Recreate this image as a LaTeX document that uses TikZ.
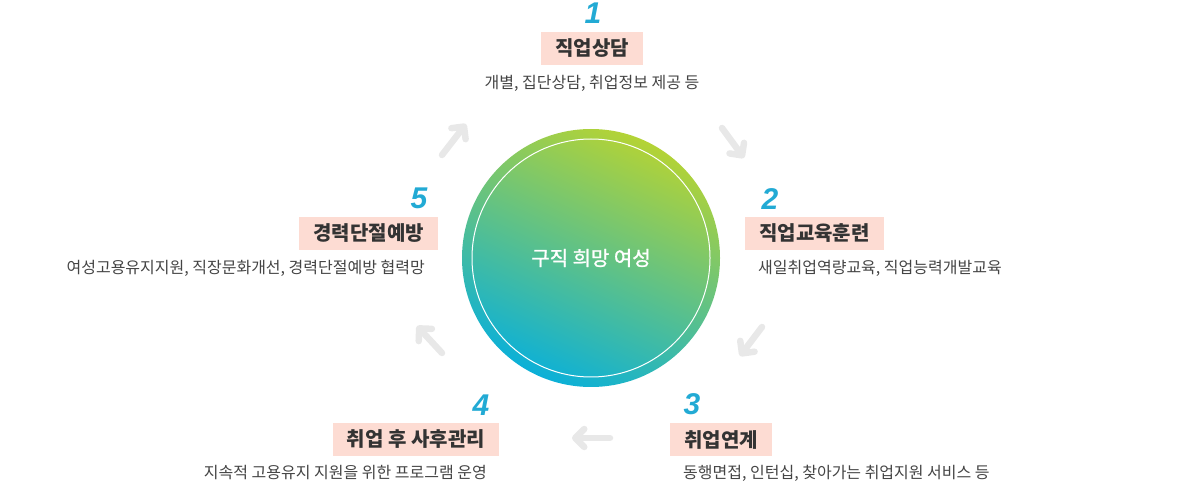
\documentclass[tikz,border=0pt]{standalone}
\usepackage{fontspec}
\newfontfamily\kr{Noto Sans CJK KR}
\newfontfamily\krhub{Noto Sans CJK KR}[FakeBold=1.2]
\newfontfamily\numfont{Liberation Sans}
\usetikzlibrary{arrows.meta}

\definecolor{boxpink}{HTML}{FDDCD3}
\definecolor{numblue}{HTML}{22AAD4}
\definecolor{ink}{HTML}{333333}
\definecolor{subink}{HTML}{444444}
\definecolor{arrowgray}{HTML}{E8E8E8}
\definecolor{hubgreen}{HTML}{B4D335}
\definecolor{hubcyan}{HTML}{0BB0D8}

\tikzset{
  stepnum/.style={font=\numfont\fontsize{30}{30}\selectfont\bfseries\itshape, text=numblue, inner sep=0pt},
  stepbox/.style={fill=boxpink, text=ink, font=\kr\fontsize{20}{20}\selectfont\bfseries,
    minimum height=33pt, inner xsep=14pt, inner ysep=0pt},
  stepnote/.style={text=subink, font=\kr\fontsize{16}{16}\selectfont, inner sep=0pt},
  flow/.style={draw=arrowgray, line width=6.5pt, line cap=round,
    -{Straight Barb[round,length=9pt,width=18pt]}},
}

\begin{document}
\begin{tikzpicture}[x=1pt, y=-1pt]
  \useasboundingbox (0,0) rectangle (1200,486);

  \node[circle, minimum size=258pt, top color=hubgreen, bottom color=hubcyan,
    shading angle=-25, text=white, font=\krhub\fontsize{20}{20}\selectfont] (hub) at (591,258) {구직 희망 여성};
  \draw[white, line width=1pt] (hub.center) circle (119pt);

  % 1
  \node[stepnum] (n1) at (593,13) {1};
  \node[stepbox] (s1) at (592,48.5) {직업상담};
  \node[stepnote] (d1) at (592,83) {개별, 집단상담, 취업정보 제공 등};

  % 2
  \node[stepnum] (n2) at (770,199) {2};
  \node[stepbox, anchor=west] (s2) at (745,233.5) {직업교육훈련};
  \node[stepnote, anchor=west] (d2) at (758,268) {새일취업역량교육, 직업능력개발교육};

  % 3
  \node[stepnum] (n3) at (692,404) {3};
  \node[stepbox, anchor=west] (s3) at (670,439.5) {취업연계};
  \node[stepnote, anchor=west] (d3) at (683,473) {동행면접, 인턴십, 찾아가는 취업지원 서비스 등};

  % 4
  \node[stepnum] (n4) at (481,405) {4};
  \node[stepbox, anchor=east] (s4) at (499,439.5) {취업 후 사후관리};
  \node[stepnote, anchor=east] (d4) at (487,473) {지속적 고용유지 지원을 위한 프로그램 운영};

  % 5
  \node[stepnum] (n5) at (419,198) {5};
  \node[stepbox, anchor=east] (s5) at (438,233.5) {경력단절예방};
  \node[stepnote, anchor=east] (d5) at (425,268) {여성고용유지지원, 직장문화개선, 경력단절예방 협력망};

  % arrows between the steps
  \coordinate (a1) at (722,128);  \coordinate (b1) at (744,158);
  \coordinate (a2) at (762,327);  \coordinate (b2) at (740,356);
  \coordinate (a3) at (610,438);  \coordinate (b3) at (572,438);
  \coordinate (a4) at (442,353);  \coordinate (b4) at (417,326);
  \coordinate (a5) at (442,155);  \coordinate (b5) at (466,124);
  \draw[flow] (a1) -- (b1);
  \draw[flow] (a2) -- (b2);
  \draw[flow] (a3) -- (b3);
  \draw[flow] (a4) -- (b4);
  \draw[flow] (a5) -- (b5);
\end{tikzpicture}
\end{document}
